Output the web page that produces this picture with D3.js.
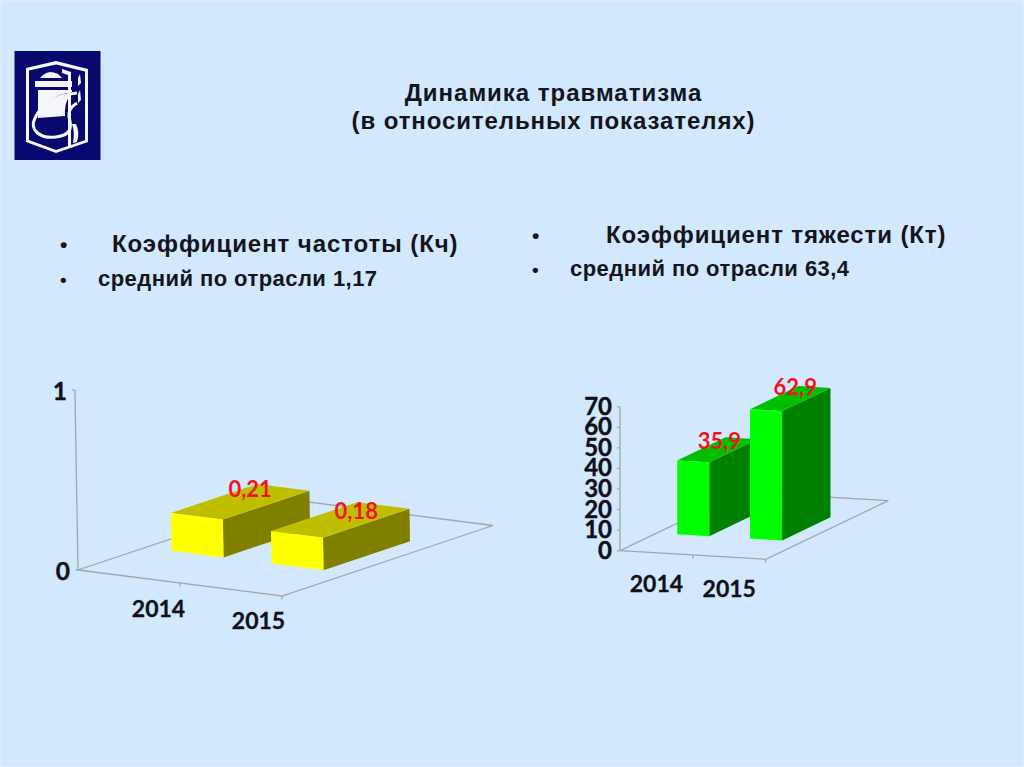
<!DOCTYPE html>
<html><head><meta charset="utf-8">
<script src="https://cdn.jsdelivr.net/npm/d3@7/dist/d3.min.js"></script>
<style>html,body{margin:0;padding:0;background:#D2E8FD;overflow:hidden}svg{display:block}</style>
</head><body><div id="c"></div>
<script>
const categories = ["2014","2015"];
const freqValues = [0.21,0.18];
const freqLabels = ["0,21","0,18"];
const freqTicks = [0,1];
const sevValues = [35.9,62.9];
const sevLabels = ["35,9","62,9"];
const sevTicks = [0,10,20,30,40,50,60,70];

const svg = d3.select("#c").append("svg").attr("width",1024).attr("height",767);
svg.append("rect").attr("width",1024).attr("height",767).attr("fill","#D2E8FD");
svg.append("rect").attr("x",0.5).attr("y",0.5).attr("width",1023).attr("height",766)
  .attr("fill","none").attr("stroke","#DCEEFE");

// logo
const logo = svg.append("g");
logo.append("rect").attr("x",14.5).attr("y",51).attr("width",86).attr("height",109).attr("fill","#08086E");
logo.append("path").attr("fill","#F4F6FA")
  .attr("d","M26,68 L56,61 L88,69 L88,142 L56,153 L26,142 Z");
logo.append("path").attr("fill","#08086E")
  .attr("d","M29,70.5 L56,64.5 L85,71.5 L85,140 L71,145 L71,72 L62,69 L62,73 L68,75 L68,146 L56,150 L29,140 Z");
logo.append("path").attr("fill","#F4F6FA")
  .attr("d","M50,72 Q58,72 62,78 L40,78 Q44,73 50,72 Z M35,81 H72 V87 H35 Z M38,90 H72 V92 Q50,95 38,112 Z M80,74 L81,83 L78,86 L78,78 Z M80,90 L81,100 L78,103 L78,94 Z");
logo.append("path").attr("fill","#F4F6FA")
  .attr("d","M38,112 Q50,98 70,95 Q64,104 65,116 L38,118 Z M72,124 L76,124 Q80,132 77,142 L73,143 Q75,132 72,124 Z");
logo.append("path").attr("fill","none").attr("stroke","#F4F6FA").attr("stroke-width",3)
  .attr("d","M77,93 C58,95 42,103 35,118 C29,130 40,139 56,137 C72,135 72,127 69,117 C68,110 72,106 77,103");

// headings
const heads = svg.append("g").attr("font-family","'Liberation Sans',Arial,sans-serif")
  .attr("font-weight",700).attr("fill","#14141C");
function head(x,y,size,ls,txt,anchor){
  heads.append("text").attr("x",x).attr("y",y).attr("font-size",size).attr("letter-spacing",ls)
    .attr("text-anchor",anchor||"start").text(txt);
}
head(553.5,100.5,24,0.98,"Динамика травматизма","middle");
head(553.5,129,24,0.9,"(в относительных показателях)","middle");
head(60,252,21,0,"•");
head(112,252,24,0.92,"Коэффициент частоты (Кч)");
head(60,286,19,0,"•");
head(98,285.5,22,0.45,"средний по отрасли 1,17");
head(532,243,21,0,"•");
head(606,243,24,0.88,"Коэффициент тяжести (Кт)");
head(532,276,19,0,"•");
head(570,276,22,0.45,"средний по отрасли 63,4");

function chart3d(o){
  const g = svg.append("g");
  const uScale = d3.scaleBand().domain(o.categories).range([0,1]).paddingInner(o.padIn).paddingOuter(o.padOut);
  const yScale = d3.scaleLinear().domain(o.yDomain).range([0,o.yPx]);
  const P = (u,d,v)=>[o.origin[0]+u*o.U[0]+d*o.D[0]+(v==null?0:yScale(v)*o.lean),
                      o.origin[1]+u*o.U[1]+d*o.D[1]-(v==null?0:yScale(v))];
  const line = d3.line();
  const grey="#A3A6AA";
  g.append("path").attr("d",line([P(0,0),P(1,0),P(1,1),P(0,1)])+"Z")
    .attr("fill","none").attr("stroke",grey).attr("stroke-width",1.3);
  const top=o.yDomain[1];
  g.append("path").attr("d",line([P(0,0,0),P(0,0,top)])).attr("fill","none").attr("stroke",grey).attr("stroke-width",1.3);
  o.ticks.forEach(t=>{
    const p=P(0,0,t);
    g.append("path").attr("d",line([[p[0]-3,p[1]],p])).attr("stroke",grey).attr("stroke-width",1.2);
    g.append("text").attr("x",p[0]-o.tickGap).attr("y",p[1]+o.tickDy).attr("text-anchor","end")
      .attr("font-family","Lato,sans-serif").attr("font-weight",700).attr("font-size",o.tickSize)
      .attr("stroke","#10101A").attr("stroke-width",0.4)
      .attr("fill","#10101A").text(String(t));
  });
  [0.5,1].forEach(u=>{
    const p=P(u,0);
    g.append("path").attr("d",line([p,[p[0],p[1]+3.5]])).attr("stroke",grey).attr("stroke-width",1.2);
  });
  o.categories.forEach((c,i)=>{
    const p=P(uScale(c)+uScale.bandwidth()/2,0);
    g.append("text").attr("x",p[0]+o.catDx).attr("y",p[1]+o.catDy).attr("text-anchor","middle")
      .attr("font-family","Lato,sans-serif").attr("font-weight",700).attr("font-size",23)
      .attr("stroke","#10101A").attr("stroke-width",0.3)
      .attr("fill","#10101A").text(c);
  });
  o.values.forEach((v,i)=>{
    const u0=uScale(o.categories[i]), u1=u0+uScale.bandwidth(), d0=o.d0, d1=o.d1;
    g.append("path").attr("d",line([P(u1,d0,0),P(u1,d1,0),P(u1,d1,v),P(u1,d0,v)])+"Z").attr("fill",o.side);
    g.append("path").attr("d",line([P(u0,d0,v),P(u1,d0,v),P(u1,d1,v),P(u0,d1,v)])+"Z").attr("fill",o.topc);
    g.append("path").attr("d",line([P(u0,d0,0),P(u1,d0,0),P(u1,d0,v),P(u0,d0,v)])+"Z").attr("fill",o.front);
  });
  o.values.forEach((v,i)=>{
    const u0=uScale(o.categories[i]);
    const p=P(u0+uScale.bandwidth()/2,(o.d0+o.d1)/2,v);
    g.append("text").attr("x",p[0]+o.nudge[i][0]).attr("y",p[1]+o.nudge[i][1]).attr("text-anchor","middle")
      .attr("font-family","Lato,sans-serif").attr("font-weight",700).attr("font-size",o.lblSize).attr("fill","#F0141E").text(o.labels[i]);
  });
}

chart3d({categories,values:freqValues,labels:freqLabels,ticks:freqTicks,yDomain:[0,1],yPx:180,lean:-0.017,
  origin:[78,570],U:[204,26],D:[211,-70.5],padIn:0.48,padOut:0.26,d0:0.32,d1:0.73,
  front:"#FFFF00",topc:"#BFBF00",side:"#808000",tickGap:8,tickDy:10,tickSize:24.5,catDx:28.5,catDy:40,lblSize:22,
  nudge:[[10,-5],[16,-1]]});
chart3d({categories,values:sevValues,labels:sevLabels,ticks:sevTicks,yDomain:[0,70],yPx:144,lean:0,
  origin:[620,550.7],U:[145.7,8.6],D:[122.6,-58.6],padIn:0.56,padOut:0.28,d0:0.3,d1:0.695,
  front:"#00FF00",topc:"#00BF00",side:"#008000",tickGap:8,tickDy:8,tickSize:24,catDx:0,catDy:39.5,lblSize:22,
  nudge:[[2,-1],[5,-4]]});
</script></body></html>
